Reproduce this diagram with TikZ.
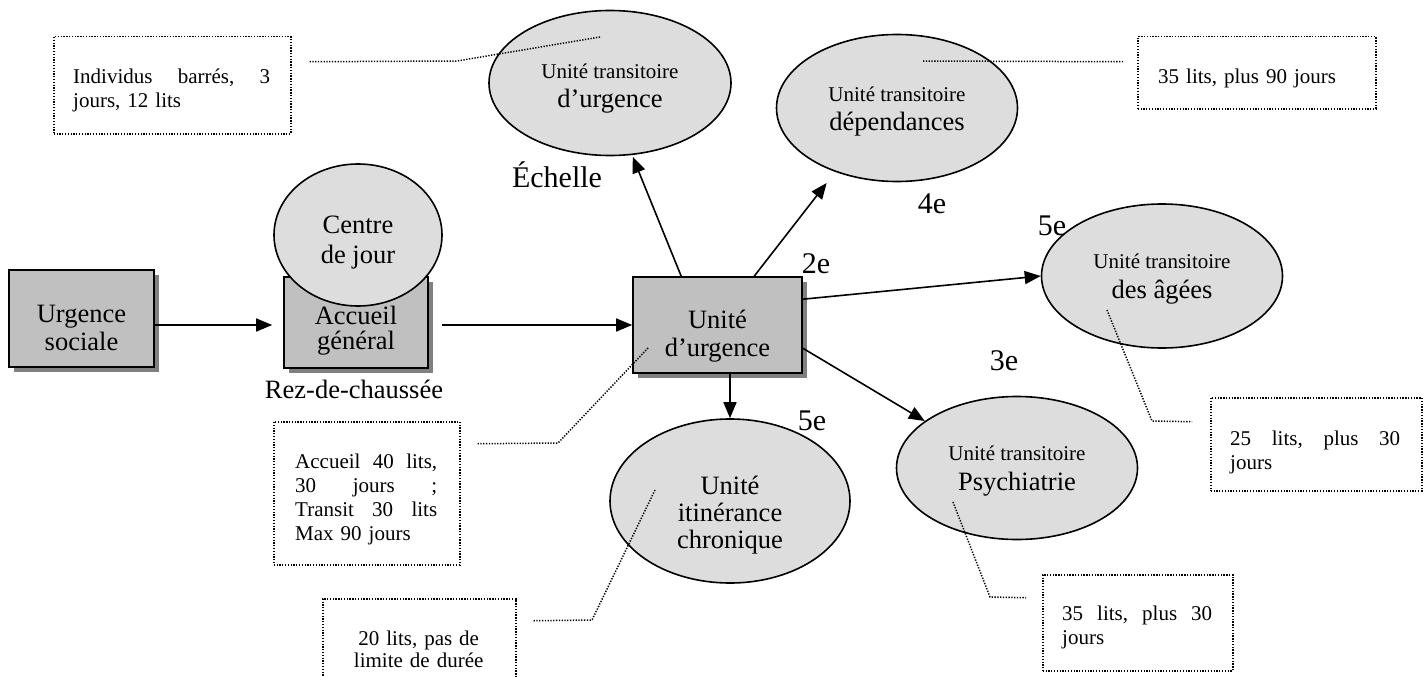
\documentclass[tikz,border=0pt]{standalone}
\usepackage{fontspec}
\setmainfont{Liberation Serif}
\usetikzlibrary{shapes.geometric,arrows.meta,shadows,calc}
\definecolor{boxgray}{HTML}{C0C0C0}
\definecolor{shadowgray}{HTML}{808080}
\definecolor{ovalgray}{HTML}{DDDDDD}
\begin{document}
\begin{tikzpicture}[x=1pt,y=-1pt,
  graybox/.style={draw, line width=1.6pt, fill=boxgray, inner sep=0pt,
    drop shadow={shadow xshift=5pt, shadow yshift=-5pt, fill=shadowgray, opacity=1}},
  oval/.style={ellipse, draw, line width=1.6pt, fill=ovalgray, inner sep=0pt},
  note/.style={draw, line width=1.5pt, dash pattern=on 1.3pt off 1.5pt, inner sep=0pt, anchor=north west},
  lead/.style={line width=1.5pt, dash pattern=on 1.3pt off 1.5pt},
  arr/.style={line width=1.6pt, -{Triangle[length=16pt,width=13pt]}},
  big/.style={font=\fontsize{26.5}{28}\selectfont, inner sep=0pt, anchor=base},
  small/.style={font=\fontsize{21}{25}\selectfont, inner sep=0pt, anchor=base},
  notetxt/.style={font=\fontsize{21}{24.5}\selectfont, inner sep=0pt, anchor=base west, align=left},
  lab/.style={font=\fontsize{30}{32}\selectfont, inner sep=0pt, anchor=base},
]
\useasboundingbox (0,0) rectangle (1424,677);

% gray boxes
\node[graybox, minimum width=145pt, minimum height=97pt] (us) at (81.5,318.5) {};
\node[big] (ust1) at (81.5,322) {Urgence};
\node[big] (ust2) at (81.5,350) {sociale};

\node[graybox, minimum width=144pt, minimum height=91pt] (acc) at (356,322.5) {};
\node[big] (acct1) at (356,324) {Accueil};
\node[big] (acct2) at (356,349) {général};

\node[oval, minimum width=168pt, minimum height=142pt] (cdj) at (358,235) {};
\node[big] (cdjt1) at (358,233) {Centre};
\node[big] (cdjt2) at (358,263) {de jour};

\node[big] (rez) at (354,398) {Rez-de-chaussée};

\node[graybox, minimum width=169pt, minimum height=96pt] (ud) at (717.5,325) {};
\node[big] (udt1) at (717.5,328) {Unité};
\node[big] (udt2) at (717.5,356) {d’urgence};

% ellipses
\node[oval, minimum width=242pt, minimum height=145pt] (ute) at (610,83) {};
\node[small] (utet1) at (610,78) {Unité transitoire};
\node[big] (utet2) at (610,107) {d’urgence};

\node[oval, minimum width=241pt, minimum height=147pt] (dep) at (897,108) {};
\node[small] (dept1) at (897,101) {Unité transitoire};
\node[big] (dept2) at (897,130) {dépendances};

\node[oval, minimum width=241pt, minimum height=144pt] (age) at (1162,276) {};
\node[small] (aget1) at (1162,268) {Unité transitoire};
\node[big] (aget2) at (1162,298) {des âgées};

\node[oval, minimum width=241pt, minimum height=143pt] (psy) at (1017,468) {};
\node[small] (psyt1) at (1017,460) {Unité transitoire};
\node[big] (psyt2) at (1017,490) {Psychiatrie};

\node[oval, minimum width=240pt, minimum height=164pt] (iti) at (730,501) {};
\node[big] (itit1) at (730,494) {Unité};
\node[big] (itit2) at (730,521) {itinérance};
\node[big] (itit3) at (730,548) {chronique};

% floor labels
\node[lab] (l1) at (557,187) {Échelle};
\node[lab] (l2) at (932,213) {4e};
\node[lab] (l3) at (1052,235) {5e};
\node[lab] (l4) at (816,273) {2e};
\node[lab] (l5) at (1004,370) {3e};
\node[lab] (l6) at (812,430) {5e};

% arrows
\coordinate (a1) at ([yshift=-6.5pt]us.east);
\draw[arr, shorten >=11pt] (a1) -- (a1 -| acc.west);
\draw[arr, shorten <=13pt] (ud.west -| acc.east) -- (ud.west);
\draw[arr, shorten >=2pt] ([xshift=49pt]ud.north west) -- (ute.287);
\draw[arr, shorten >=14pt] ([xshift=122pt]ud.north west) -- (dep.226);
\draw[arr] ([yshift=-23pt]ud.north east) -- (age.west);
\draw[arr] ([yshift=-72pt]ud.north east) -- (psy.153);
\draw[arr] (iti.north |- ud.south) -- (iti.north);

% note boxes
\node[note, minimum width=237pt, minimum height=97pt] (nb1) at (53,36) {};
\node[notetxt, text width=197pt] (nt1) at (73,83) {Individus\hfill barrés,\hfill 3\\jours, 12 lits};

\node[note, minimum width=238pt, minimum height=72pt] (nb2) at (1137,36) {};
\node[notetxt, text width=200pt] (nt2) at (1158,83) {35 lits, plus 90 jours};

\node[note, minimum width=211pt, minimum height=93pt] (nb3) at (1210,397) {};
\node[notetxt, text width=170pt] (nt3) at (1230,445) {25\hfill lits,\hfill plus\hfill 30\\jours};

\node[note, minimum width=190pt, minimum height=96pt] (nb4) at (1042,574) {};
\node[notetxt, text width=150pt] (nt4) at (1062,620) {35\hfill lits,\hfill plus\hfill 30\\jours};

\node[note, minimum width=193pt, minimum height=90pt] (nb5) at (322,598) {};
\node[notetxt, text width=193pt, align=center, font=\fontsize{21}{22}\selectfont] (nt5) at (322,645) {20 lits, pas de\\limite de durée};

\node[note, minimum width=186pt, minimum height=143pt] (nb6) at (273,421) {};
\node[notetxt, text width=142pt, font=\fontsize{21}{24}\selectfont] (nt6) at (295,468) {Accueil\hfill 40\hfill lits,\\30\hfill jours\hfill ;\\Transit\hfill 30\hfill lits\\Max 90 jours};

% leader lines
\draw[lead] ([shift={(-10,-46)}]ute.center) -- (457,61) -- ([shift={(17,-23.5)}]nb1.east);
\draw[lead] ([shift={(26,-47)}]dep.center) -- ([shift={(-14,-11)}]nb2.west);
\draw[lead] ([shift={(-55,34)}]age.center) -- (1152,421) -- ([shift={(-18,-22.5)}]nb3.west);
\draw[lead] ([shift={(-64,34)}]psy.center) -- (990,597) -- ([shift={(-16,-25)}]nb4.west);
\draw[lead] ([shift={(-75,-11)}]iti.center) -- (592,620) -- ([shift={(17,-23)}]nb5.east);
\draw[lead] ([shift={(-69.5,23)}]ud.center) -- (558,443) -- ([shift={(16,-49.5)}]nb6.east);
\end{tikzpicture}
\end{document}
